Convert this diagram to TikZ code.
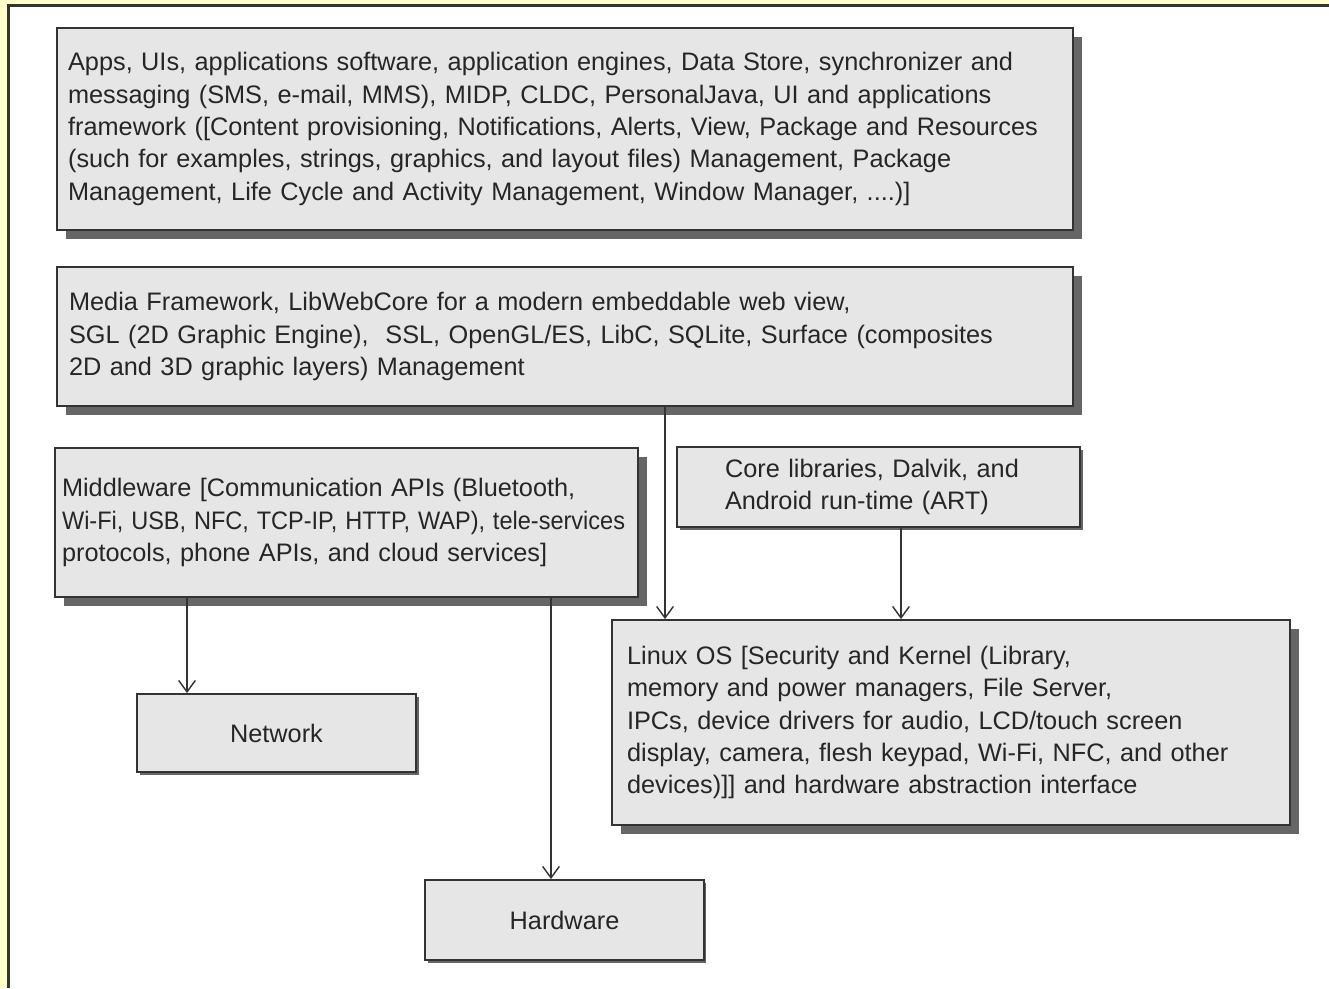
\documentclass[tikz,border=0pt]{standalone}
\usepackage{fontspec}
\setmainfont{Liberation Sans}
\usepackage{tikz}
\usetikzlibrary{arrows.meta, positioning, shadows}
\definecolor{paperYellow}{HTML}{FFFFCC}
\definecolor{boxFill}{HTML}{E6E6E6}
\definecolor{boxEdge}{HTML}{333333}
\definecolor{shadowGray}{HTML}{666666}
\definecolor{textDark}{HTML}{262626}

\begin{document}
\begin{tikzpicture}[x=0.02cm, y=-0.02cm,
    font=\fontsize{14.4}{18.4}\selectfont, text=textDark,
    layer/.style={draw=boxEdge, line width=1.1pt, fill=boxFill, align=left, inner sep=0pt,
      drop shadow={shadow xshift=#1, shadow yshift=-#1, opacity=1, fill=shadowGray}},
    layer/.default=0.18cm,
    arw/.style={draw=boxEdge, line width=0.8pt, -{Straight Barb[length=6.5pt, width=9.5pt]}}]
  \useasboundingbox (0,0) rectangle (1329,988);
  % page frame
  \fill[paperYellow] (0,0) rectangle (1329,988);
  \fill[white] (8,5) rectangle (1329,988);
  \draw[boxEdge, line width=1.2pt] (8.5,988) -- (8.5,5.5) -- (1329,5.5);

  % stack
  \node[layer, minimum width=20.32cm, minimum height=4.04cm, text width=19.88cm] (apps) at (565,129)
    {Apps, UIs, applications software, application engines, Data Store, synchronizer and\\
     messaging (SMS, e-mail, MMS), MIDP, CLDC, PersonalJava, UI and applications\\
     framework ([Content provisioning, Notifications, Alerts, View, Package and Resources\\
     (such for examples, strings, graphics, and layout files) Management, Package\\
     Management, Life Cycle and Activity Management, Window Manager, ....)]};
  \node[layer, minimum width=20.32cm, minimum height=2.78cm, text width=19.84cm] (media) at (565,336.5)
    {Media Framework, LibWebCore for a modern embeddable web view,\\
     SGL (2D Graphic Engine),\ \ SSL, OpenGL/ES, LibC, SQLite, Surface (composites\\
     2D and 3D graphic layers) Management};
  \node[layer, minimum width=11.66cm, minimum height=2.98cm, text width=11.38cm] (middle) at (346.5,522.5)
    {Middleware [Communication APIs (Bluetooth,\\
     \scalebox{0.93}[1]{Wi-Fi, USB, NFC, TCP-IP, HTTP, WAP), tele-services}\\
     protocols, phone APIs, and cloud services]};
  \node[layer=0.06cm, minimum width=8.06cm, minimum height=1.6cm, text width=6.14cm] (core) at (878.5,487)
    {Core libraries, Dalvik, and\\
     Android run-time (ART)};
  \node[layer, minimum width=13.56cm, minimum height=4.1cm, text width=12.96cm] (linux) at (951,722.5)
    {Linux OS [Security and Kernel (Library,\\
     memory and power managers, File Server,\\
     IPCs, device drivers for audio, LCD/touch screen\\
     display, camera, flesh keypad, Wi-Fi, NFC, and other\\
     devices)]] and hardware abstraction interface};
  \node[layer=0.06cm, align=center, minimum width=5.58cm, minimum height=1.56cm] (network) at (276.5,733) {Network};
  \node[layer=0.05cm, align=center, minimum width=5.58cm, minimum height=1.6cm] (hardware) at (564.5,920) {Hardware};

  % connectors
  \coordinate (mx) at (665,0);
  \coordinate (cx) at (901,0);
  \coordinate (nx) at (187,0);
  \coordinate (hx) at (551,0);
  \draw[arw] (media.south -| mx) -- (linux.north -| mx);
  \draw[arw] (core.south -| cx) -- (linux.north -| cx);
  \draw[arw] (middle.south -| nx) -- (network.north -| nx);
  \draw[arw] (middle.south -| hx) -- (hardware.north -| hx);
\end{tikzpicture}
\end{document}
